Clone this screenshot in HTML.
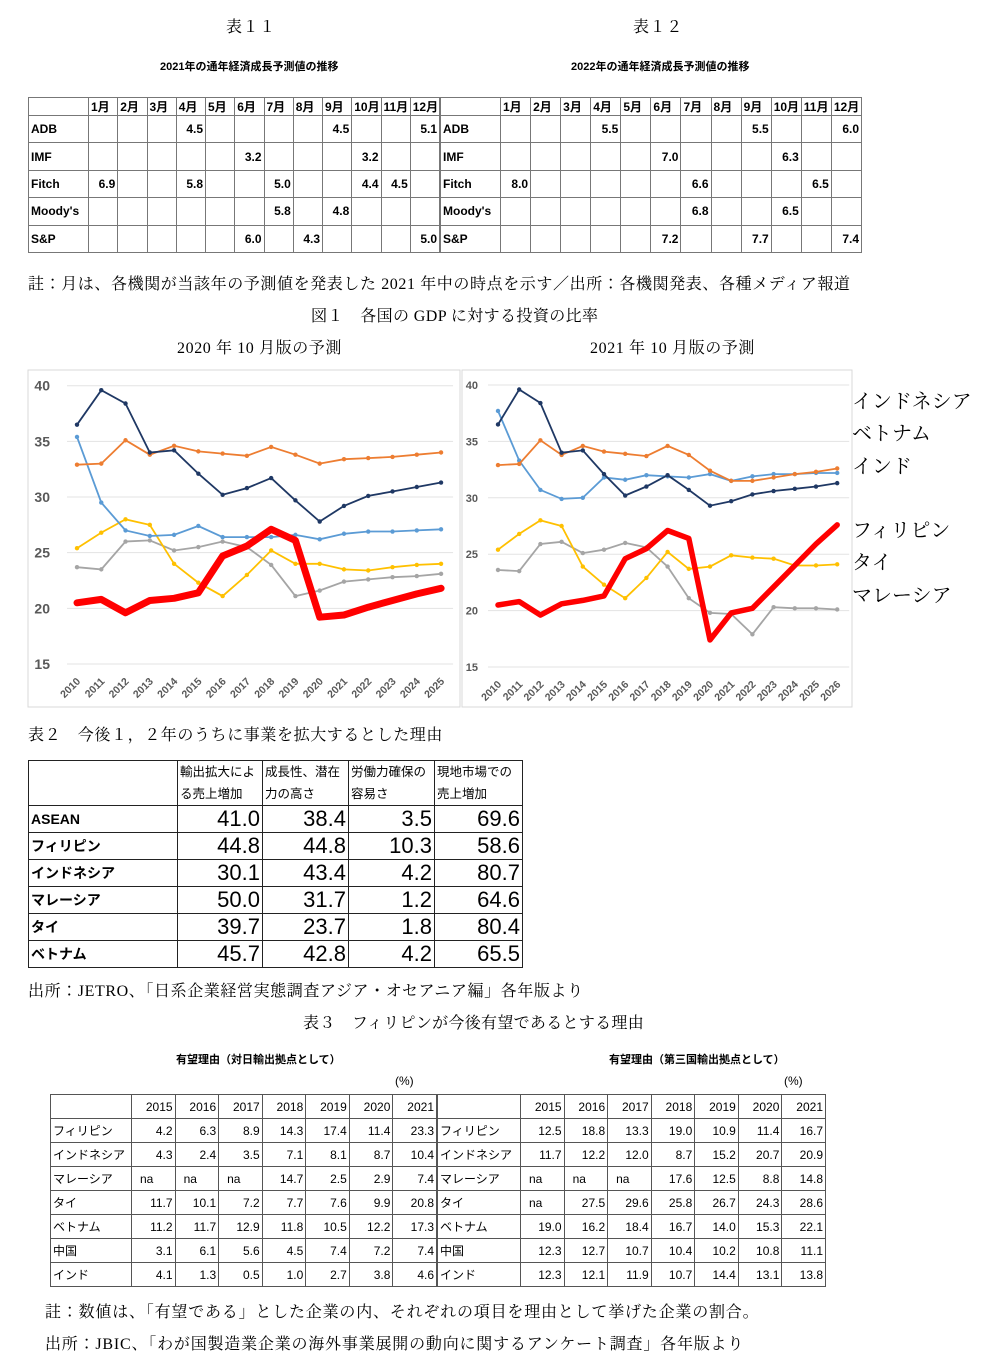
<!DOCTYPE html>
<html><head><meta charset="utf-8">
<style>
body{margin:0;background:#fff;width:1000px;height:1370px;position:relative;overflow:hidden;font-family:"Liberation Sans","Noto Sans CJK JP",sans-serif;color:#000}
.t{position:absolute;white-space:nowrap}
.m{font-family:"Liberation Serif","Noto Serif CJK JP",serif;font-size:16px;letter-spacing:0.6px}
.s{font-size:11px;font-weight:bold;font-family:"Liberation Sans","Noto Sans CJK JP",sans-serif}
table{position:absolute;border-collapse:collapse;table-layout:fixed}
td{border:1px solid #777;padding:0 2px;font-size:12px;white-space:nowrap;overflow:hidden}
.tb td{font-weight:bold}
.n{text-align:right}
#t2 td{border:1.5px solid #222;font-size:22px;font-weight:normal}
#t2 td.h{font-size:12.5px;line-height:22px;vertical-align:top}
#t2 td.l{font-size:14px;font-weight:bold}
.t3 td{font-size:12px;border:1px solid #555;font-family:"Liberation Sans Narrow","Liberation Sans","Noto Sans CJK JP",sans-serif}
</style></head><body>
<div class="t m" style="left:226px;top:14px">表１１</div>
<div class="t m" style="left:633px;top:14px">表１２</div>
<div class="t s" style="left:160px;top:58px">2021年の通年経済成長予測値の推移</div>
<div class="t s" style="left:571px;top:58px">2022年の通年経済成長予測値の推移</div>

<table class="tb" id="ta" style="left:28px;top:97px;width:412px"></table>
<table class="tb" id="tb" style="left:440px;top:97px;width:422px"></table>

<div class="t m" style="left:28px;top:271px">註：月は、各機関が当該年の予測値を発表した 2021 年中の時点を示す／出所：各機関発表、各種メディア報道</div>
<div class="t m" style="left:311px;top:303px;letter-spacing:0.4px">図１　各国の GDP に対する投資の比率</div>
<div class="t m" style="left:177px;top:335px">2020 年 10 月版の予測</div>
<div class="t m" style="left:590px;top:335px">2021 年 10 月版の予測</div>

<svg id="ch" width="1000" height="720" style="position:absolute;left:0;top:0"></svg>

<div class="t m" style="left:852px;top:386px;font-size:20px;line-height:32.3px;letter-spacing:0">インドネシア<br>ベトナム<br>インド<br><br>フィリピン<br>タイ<br>マレーシア</div>

<div class="t m" style="left:28px;top:722px">表２　今後１，２年のうちに事業を拡大するとした理由</div>
<table id="t2" style="left:28px;top:760px;width:494px">
<colgroup><col style="width:149px"><col style="width:85px"><col style="width:86px"><col style="width:86px"><col style="width:88px"></colgroup>
<tr style="height:44px"><td></td><td class="h">輸出拡大によ<br>る売上増加</td><td class="h">成長性、潜在<br>力の高さ</td><td class="h">労働力確保の<br>容易さ</td><td class="h">現地市場での<br>売上増加</td></tr>
</table>

<div class="t m" style="left:28px;top:978px">出所：JETRO、「日系企業経営実態調査アジア・オセアニア編」各年版より</div>
<div class="t m" style="left:303px;top:1010px;letter-spacing:0.3px">表３　フィリピンが今後有望であるとする理由</div>
<div class="t s" style="left:176px;top:1051px">有望理由（対日輸出拠点として）</div>
<div class="t s" style="left:609px;top:1051px">有望理由（第三国輸出拠点として）</div>
<div class="t" style="left:395px;top:1074px;font-size:12px">(%)</div>
<div class="t" style="left:784px;top:1074px;font-size:12px">(%)</div>
<table class="t3" id="t3a" style="left:50px;top:1094px;width:387px"></table>
<table class="t3" id="t3b" style="left:437px;top:1094px;width:389px"></table>

<div class="t m" style="left:45px;top:1299px;letter-spacing:0.8px">註：数値は、「有望である」とした企業の内、それぞれの項目を理由として挙げた企業の割合。</div>
<div class="t m" style="left:45px;top:1331px;letter-spacing:0.8px">出所：JBIC、「わが国製造業企業の海外事業展開の動向に関するアンケート調査」各年版より</div>

<script>
function mk(id,firstW,rows,h,hdrH){
  var t=document.getElementById(id),s='<colgroup><col style="width:'+firstW+'px">';
  for(var i=0;i<12;i++)s+='<col>';s+='</colgroup>';
  s+='<tr style="height:'+hdrH+'px"><td></td>';for(i=1;i<=12;i++)s+='<td>'+i+'月</td>';s+='</tr>';
  rows.forEach(function(r){s+='<tr style="height:'+h+'px"><td>'+r[0]+'</td>';for(var i=1;i<=12;i++)s+='<td class="n">'+(r[1][i]||'')+'</td>';s+='</tr>';});
  t.innerHTML=s;
}
mk('ta',60,[['ADB',{4:'4.5',9:'4.5',12:'5.1'}],['IMF',{6:'3.2',10:'3.2'}],['Fitch',{1:'6.9',4:'5.8',7:'5.0',10:'4.4',11:'4.5'}],["Moody's",{7:'5.8',9:'4.8'}],['S&amp;P',{6:'6.0',8:'4.3',12:'5.0'}]],27.4,17);
mk('tb',60,[['ADB',{4:'5.5',9:'5.5',12:'6.0'}],['IMF',{6:'7.0',10:'6.3'}],['Fitch',{1:'8.0',7:'6.6',11:'6.5'}],["Moody's",{7:'6.8',10:'6.5'}],['S&amp;P',{6:'7.2',9:'7.7',12:'7.4'}]],27.4,17);

var t2=[['ASEAN','41.0','38.4','3.5','69.6'],['フィリピン','44.8','44.8','10.3','58.6'],['インドネシア','30.1','43.4','4.2','80.7'],['マレーシア','50.0','31.7','1.2','64.6'],['タイ','39.7','23.7','1.8','80.4'],['ベトナム','45.7','42.8','4.2','65.5']];
var s='';t2.forEach(function(r){s+='<tr style="height:25.8px"><td class="l">'+r[0]+'</td>';for(var i=1;i<5;i++)s+='<td class="n">'+r[i]+'</td>';s+='</tr>';});
document.getElementById('t2').insertAdjacentHTML('beforeend',s);

function t3(id,fw,rows){
  var s='<colgroup><col style="width:'+fw+'px">';for(var i=0;i<7;i++)s+='<col>';s+='</colgroup><tr style="height:24px"><td></td>';
  for(i=2015;i<=2021;i++)s+='<td class="n">'+i+'</td>';s+='</tr>';
  rows.forEach(function(r){s+='<tr style="height:24px"><td>'+r[0]+'</td>';r.slice(1).forEach(function(v){s+='<td class="'+(v=='na'?'':'n')+'" style="'+(v=='na'?'padding-left:8px':'')+'">'+v+'</td>';});s+='</tr>';});
  document.getElementById(id).innerHTML=s;
}
t3('t3a',81,[['フィリピン','4.2','6.3','8.9','14.3','17.4','11.4','23.3'],['インドネシア','4.3','2.4','3.5','7.1','8.1','8.7','10.4'],['マレーシア','na','na','na','14.7','2.5','2.9','7.4'],['タイ','11.7','10.1','7.2','7.7','7.6','9.9','20.8'],['ベトナム','11.2','11.7','12.9','11.8','10.5','12.2','17.3'],['中国','3.1','6.1','5.6','4.5','7.4','7.2','7.4'],['インド','4.1','1.3','0.5','1.0','2.7','3.8','4.6']]);
t3('t3b',83,[['フィリピン','12.5','18.8','13.3','19.0','10.9','11.4','16.7'],['インドネシア','11.7','12.2','12.0','8.7','15.2','20.7','20.9'],['マレーシア','na','na','na','17.6','12.5','8.8','14.8'],['タイ','na','27.5','29.6','25.8','26.7','24.3','28.6'],['ベトナム','19.0','16.2','18.4','16.7','14.0','15.3','22.1'],['中国','12.3','12.7','10.7','10.4','10.2','10.8','11.1'],['インド','12.3','12.1','11.9','10.7','14.4','13.1','13.8']]);

var svg='';
function chart(fx,fy,fw,fh,x0,step,y40,y15,n,fs,lx,series,redW){
  svg+='<rect x="'+fx+'" y="'+fy+'" width="'+fw+'" height="'+fh+'" fill="#fff" stroke="#d9d9d9"/>';
  var pu=(y15-y40)/25;
  function Y(v){return y40+(40-v)*pu;}
  for(var g=15;g<=40;g+=5){var y=Y(g);svg+='<line x1="'+(x0-10)+'" x2="'+(x0+step*(n-1)+12)+'" y1="'+y+'" y2="'+y+'" stroke="#e3e3e3"/>';
    svg+='<text x="'+lx+'" y="'+(y+fs*0.36)+'" font-size="'+fs+'" font-weight="bold" fill="#595959" text-anchor="end" font-family="Liberation Sans">'+g+'</text>';}
  for(var i=0;i<n;i++){var x=x0+i*step;svg+='<text transform="translate('+(x+4)+','+(y15+18)+') rotate(-45)" font-size="10.5" font-weight="bold" fill="#595959" text-anchor="end" font-family="Liberation Sans">'+(2010+i)+'</text>';}
  series.forEach(function(se){
    var pts=se.d.map(function(v,i){return (x0+i*step).toFixed(1)+','+Y(v).toFixed(1);}).join(' ');
    if(se.c=='#ff0000'){svg+='<polyline points="'+pts+'" fill="none" stroke="#ff0000" stroke-width="'+redW+'" stroke-linejoin="round" stroke-linecap="round"/>';}
    else{svg+='<polyline points="'+pts+'" fill="none" stroke="'+se.c+'" stroke-width="1.8"/>';
      se.d.forEach(function(v,i){svg+='<circle cx="'+(x0+i*step)+'" cy="'+Y(v)+'" r="2.2" fill="'+se.c+'"/>';});}
  });
}
chart(28,370,432,337,77,24.27,385.7,664,16,14,50,[
{c:'#a5a5a5',d:[23.7,23.5,26.0,26.1,25.2,25.5,26.0,25.5,23.9,21.1,21.6,22.4,22.6,22.8,22.9,23.1]},
{c:'#ffc000',d:[25.4,26.8,28.0,27.5,24.0,22.3,21.1,23.0,25.2,24.0,24.0,23.5,23.4,23.7,23.9,24.0]},
{c:'#5b9bd5',d:[35.4,29.5,27.0,26.5,26.6,27.4,26.4,26.4,26.4,26.6,26.2,26.7,26.9,26.9,27.0,27.1]},
{c:'#ed7d31',d:[32.9,33.0,35.1,33.8,34.6,34.1,33.9,33.7,34.5,33.8,33.0,33.4,33.5,33.6,33.8,34.0]},
{c:'#1f3864',d:[36.5,39.6,38.4,34.0,34.2,32.1,30.2,30.8,31.7,29.7,27.8,29.2,30.1,30.5,30.9,31.3]},
{c:'#ff0000',d:[20.5,20.8,19.6,20.7,20.9,21.4,24.7,25.6,27.1,26.1,19.2,19.4,20.1,20.7,21.3,21.8]}],7);
chart(462,370,390,337,498,21.2,385,667,17,11,478,[
{c:'#a5a5a5',d:[23.6,23.5,25.9,26.1,25.1,25.4,26.0,25.6,23.9,21.1,19.8,19.7,17.9,20.3,20.2,20.2,20.1]},
{c:'#ffc000',d:[25.4,26.8,28.0,27.5,23.9,22.3,21.1,22.9,25.2,23.7,23.9,24.9,24.7,24.6,24.0,24.0,24.1]},
{c:'#5b9bd5',d:[37.7,33.3,30.7,29.9,30.0,31.8,31.6,32.0,31.9,31.8,32.1,31.5,31.9,32.1,32.1,32.2,32.2]},
{c:'#ed7d31',d:[32.9,33.0,35.1,33.8,34.6,34.1,33.9,33.7,34.6,33.8,32.4,31.5,31.5,31.8,32.1,32.3,32.6]},
{c:'#1f3864',d:[36.5,39.6,38.4,34.0,34.2,32.1,30.2,31.0,32.0,30.7,29.3,29.7,30.3,30.6,30.8,31.0,31.3]},
{c:'#ff0000',d:[20.5,20.8,19.6,20.6,20.9,21.3,24.6,25.5,27.1,26.4,17.4,19.8,20.2,22.1,24.0,25.9,27.6]}],5.5);
document.getElementById('ch').innerHTML=svg;
</script>
</body></html>
